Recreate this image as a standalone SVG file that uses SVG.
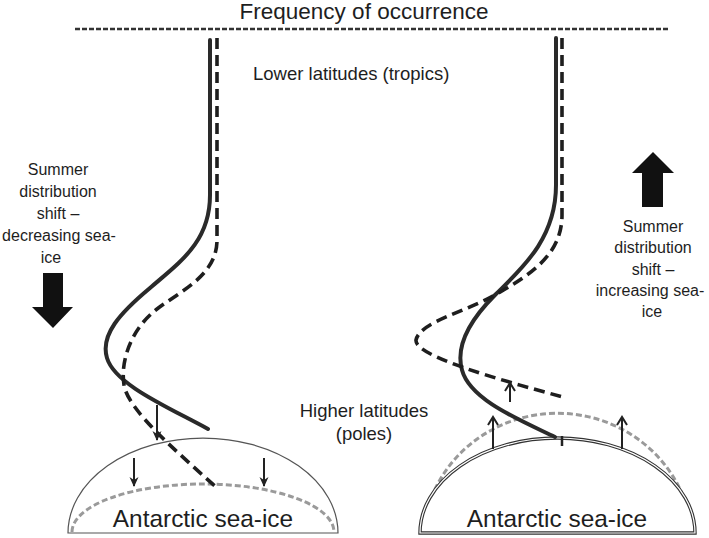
<svg xmlns="http://www.w3.org/2000/svg" width="709" height="538" viewBox="0 0 709 538">
<style>
text{font-family:"Liberation Sans",Arial,sans-serif;fill:#1e1e1e}
.side{font-size:16px;text-anchor:middle}
.mid{font-size:18.5px}
.ice{font-size:24.4px;text-anchor:middle}
.solid{fill:none;stroke:#2a2a2a;stroke-width:4;stroke-linecap:round}
.dash{fill:none;stroke:#1e1e1e;stroke-width:3.6;stroke-dasharray:11 6}
.grey{fill:none;stroke:#9a9a9a;stroke-width:3;stroke-dasharray:6 3}
.thin{fill:none;stroke:#222;stroke-width:2}
.big{fill:#111}
</style>
<defs>
<marker id="ah" viewBox="0 0 10 10" refX="9" refY="5" markerWidth="10" markerHeight="10" orient="auto" markerUnits="userSpaceOnUse">
<path d="M0,0.5 L10,5 L0,9.5 L3,5 Z" fill="#222"/>
</marker>
</defs>
<rect width="709" height="538" fill="#fff"/>

<g id="title">
<text x="364" y="19" font-size="22.5" text-anchor="middle">Frequency of occurrence</text>
<line x1="75" y1="29" x2="668" y2="29" stroke="#333" stroke-width="2.5" stroke-dasharray="5 2"/>
</g>

<g id="labels">
<text class="mid" x="253" y="80">Lower latitudes (tropics)</text>
<text class="mid" x="364" y="417" text-anchor="middle">Higher latitudes</text>
<text class="mid" x="364" y="440" text-anchor="middle">(poles)</text>
</g>

<g id="left-shift">
<text class="side" x="58" y="175">Summer</text>
<text class="side" x="58" y="197">distribution</text>
<text class="side" x="58" y="219">shift –</text>
<text class="side" x="59" y="241">decreasing sea-</text>
<text class="side" x="51" y="263">ice</text>
<path class="big" d="M43,273 H63 V307 H73 L53,328 L32,307 H43 Z"/>
</g>

<g id="right-shift">
<path class="big" d="M642,207 H663 V173 H674 L653,152 L632,173 H642 Z"/>
<text class="side" x="653" y="232">Summer</text>
<text class="side" x="653" y="253">distribution</text>
<text class="side" x="653" y="275">shift –</text>
<text class="side" x="650" y="296">increasing sea-</text>
<text class="side" x="652" y="317">ice</text>
</g>

<g id="left-ice">
<path d="M68,533 A135,95 0 0 1 338,533 Z" fill="#fff" stroke="#555" stroke-width="1.2"/>
<path class="grey" d="M72,532 A131,48 0 0 1 334,532"/>
<text class="ice" x="203" y="527">Antarctic sea-ice</text>
</g>

<g id="right-ice">
<path class="grey" d="M423,533 A135,131 0 0 1 692,533"/>
<path d="M420,533 A137.5,95 0 0 1 695,533 Z" fill="#fff" stroke="#333" stroke-width="3.4"/>
<path d="M420,533 A137.5,95 0 0 1 695,533 Z" fill="none" stroke="#fff" stroke-width="1.2"/>
<text class="ice" x="557" y="527">Antarctic sea-ice</text>
</g>

<g id="connectors">
<path class="solid" d="M210,40 L210,195 C210,242 180,262 150,288 C120,313 100,335 107,358 C115,385 170,408 208,429"/>
<path class="dash" d="M217,38 L217,240 C217,275 182,290 157,309 C132,328 120,360 124,385 C128,410 175,450 217,488"/>
<path class="thin" d="M157,405 V440" marker-end="url(#ah)"/>
<path class="thin" d="M134,458 V486" marker-end="url(#ah)"/>
<path class="thin" d="M264,458 V486" marker-end="url(#ah)"/>

<path class="solid" d="M556,38 L556,185 C556,240 520,270 495,295 C470,320 455,345 462,370 C470,400 520,420 555,437"/>
<path class="dash" d="M562,38 L562,215 C562,255 530,275 495,295 C465,312 420,322 416,340 C414,356 500,380 563,397"/>
<path class="thin" d="M493,449 V418 M488,425 L493,417 L498,425"/>
<path class="thin" d="M622,449 V418 M617,425 L622,417 L627,425"/>
<path class="thin" d="M510,402 V384 M505,391 L510,383 L515,391"/>
<path d="M562,436 V446" stroke="#222" stroke-width="2.5"/>
</g>
</svg>
